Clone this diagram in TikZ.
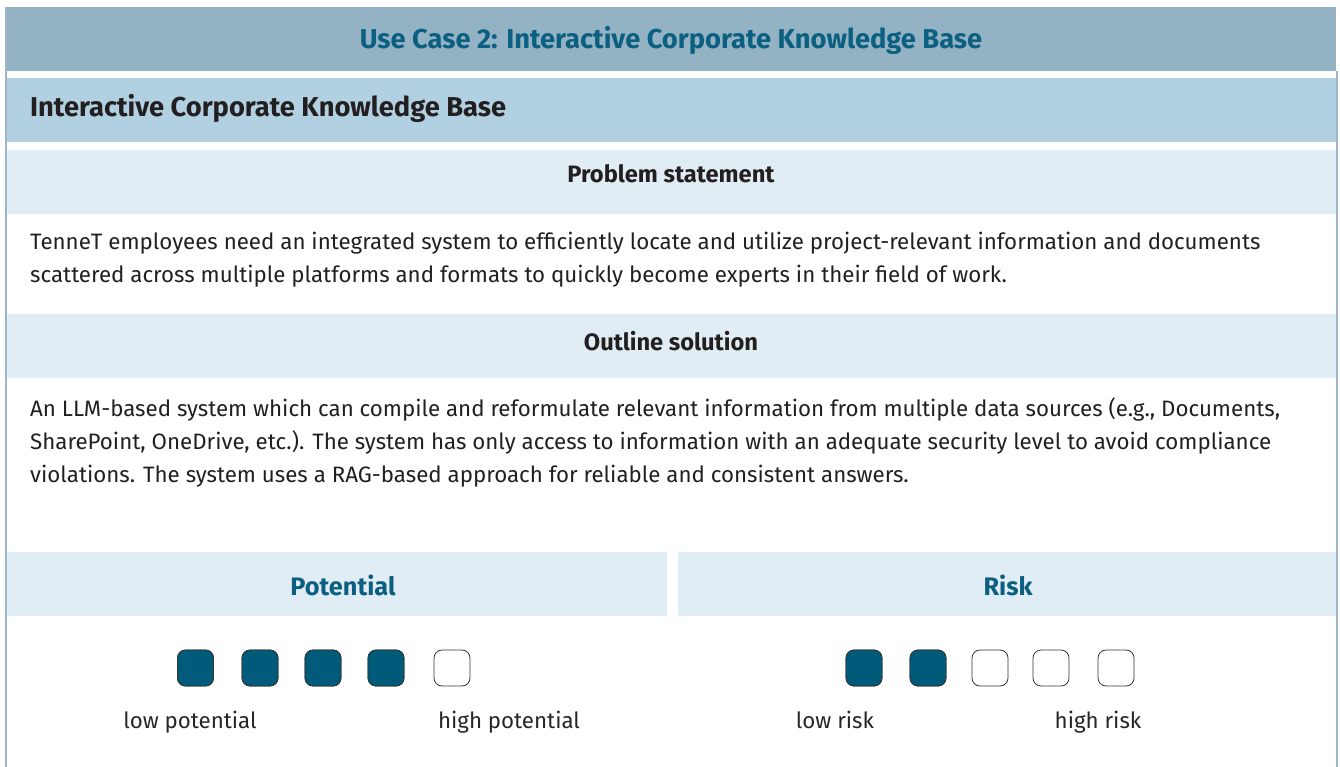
\documentclass[tikz,border=0pt]{standalone}
\usepackage{fontspec}
\setmainfont{Fira Sans}
\definecolor{headband}{HTML}{93B2C4}
\definecolor{titleband}{HTML}{B1D0E1}
\definecolor{lightband}{HTML}{E1EDF4}
\definecolor{framecol}{HTML}{9DB7C8}
\definecolor{teal}{HTML}{0B5F80}
\definecolor{boxfill}{HTML}{005A7A}
\definecolor{bodytext}{HTML}{231F20}
\tikzset{
  heading/.style={font=\fontsize{23.7}{28}\selectfont\bfseries, text=bodytext},
  bigheading/.style={font=\fontsize{27.3}{32}\selectfont\bfseries},
  bodypar/.style={font=\fontsize{22.3}{33}\selectfont, text=bodytext, align=left, anchor=north west, inner sep=0pt},
  scorebox/.style={draw=black!80, line width=0.8pt, rounded corners=8pt, minimum width=36pt, minimum height=36pt, inner sep=0pt},
  scalelabel/.style={font=\fontsize{22.3}{26}\selectfont, text=black!85}
}
\begin{document}
\begin{tikzpicture}[x=1pt, y=-1pt]
        \useasboundingbox (0,0) rectangle (1340,767);
        \fill[headband] (7,7) rectangle (1336,71);
        \fill[titleband] (7,78) rectangle (1336,142);
        \fill[lightband] (7,150) rectangle (1336,214);
        \fill[lightband] (7,314) rectangle (1336,378);
        \fill[lightband] (7,552) rectangle (667,616);
        \fill[lightband] (678,552) rectangle (1336,616);
        \draw[framecol, line width=1.5pt] (6,7) -- (6,767);
        \draw[framecol, line width=1.5pt] (1337,71) -- (1337,767);
        \node[heading, bigheading, text=teal] (usecase) at (671,40) {Use Case 2: Interactive Corporate Knowledge Base};
        \node[heading, bigheading, anchor=west, inner sep=0pt] (kbtitle) at (30,108) {Interactive Corporate Knowledge Base};
        \node[heading] (problem) at (671,174) {Problem statement};
        \node[bodypar] (problemtext) at (30,232) {TenneT employees need an integrated system to efficiently locate and utilize project-relevant information and documents\\scattered across multiple platforms and formats to quickly become experts in their field of work.};
        \node[heading] (outline) at (671,341) {Outline solution};
        \node[bodypar] (outlinetext) at (30,397) {An LLM-based system which can compile and reformulate relevant information from multiple data sources (e.g., Documents,\\SharePoint, OneDrive, etc.). The system has only access to information with an adequate security level to avoid compliance\\violations. The system uses a RAG-based approach for reliable and consistent answers.};
        \node[heading, font=\fontsize{25.3}{30}\selectfont\bfseries, text=teal] (potential) at (343,585) {Potential};
        \node[heading, font=\fontsize{25.3}{30}\selectfont\bfseries, text=teal] (risk) at (1008,585) {Risk};
        \foreach \x [count=\i] in {195.5,260,323,386,452}
        \node[scorebox, fill=white] (pot\i) at (\x,668) {};
        \foreach \i in {1,...,4}
        \node[scorebox, fill=boxfill] at (pot\i) {};
        \foreach \x [count=\i] in {864,928,990,1051,1116}
        \node[scorebox, fill=white] (risk\i) at (\x,668) {};
        \foreach \i in {1,2}
        \node[scorebox, fill=boxfill] at (risk\i) {};
        \node[scalelabel, anchor=base] (lowpot) at (190,728) {low potential};
        \node[scalelabel, anchor=base] (highpot) at (509,728) {high potential};
        \node[scalelabel, anchor=base] (lowrisk) at (835,728) {low risk};
        \node[scalelabel, anchor=base] (highrisk) at (1098,728) {high risk};
    \end{tikzpicture}
\end{document}
